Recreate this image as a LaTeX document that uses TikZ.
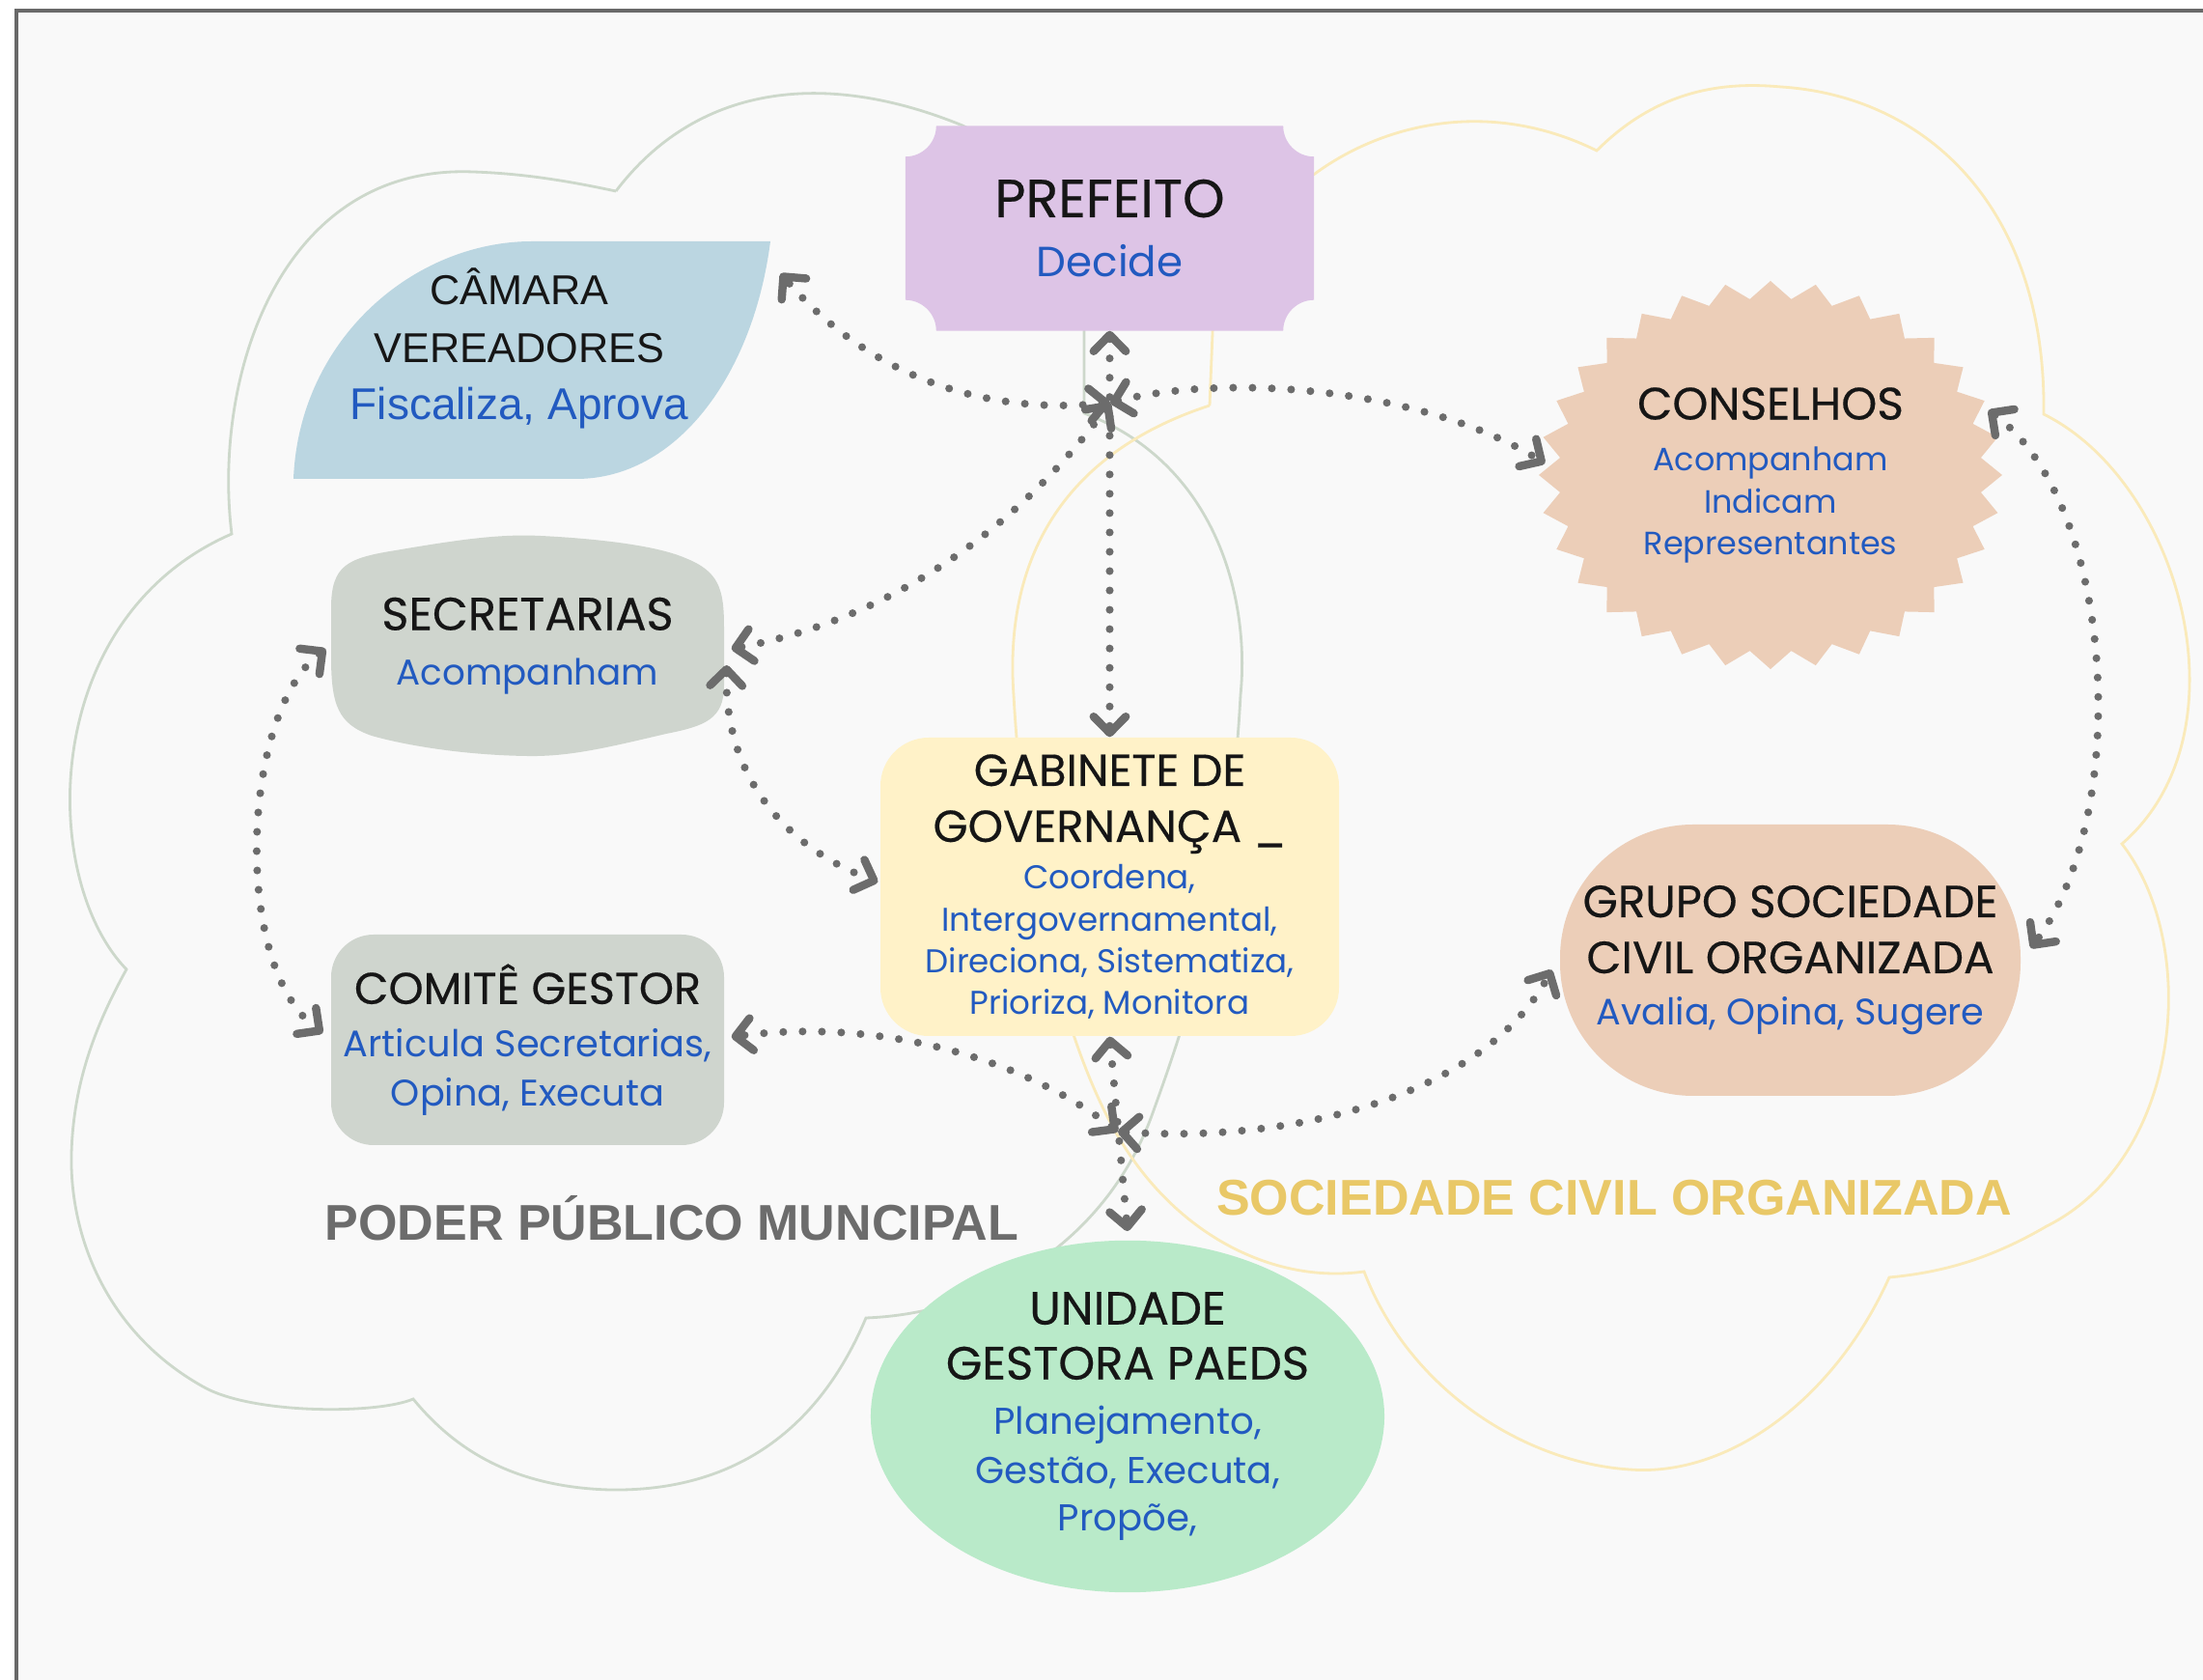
\documentclass[tikz,border=0pt]{standalone}
\usepackage{fontspec}
\setmainfont{Poppins}
\newfontfamily\ttlfont[FakeBold=0.4]{Poppins}
\newfontfamily\arialfont{Liberation Sans}
\usetikzlibrary{positioning, arrows.meta, shapes.geometric}

\definecolor{bggray}{RGB}{249,249,249}
\definecolor{framegray}{RGB}{105,105,105}
\definecolor{linkgray}{RGB}{108,108,108}
\definecolor{cloudgreen}{RGB}{205,216,203}
\definecolor{cloudyellow}{RGB}{250,234,186}
\definecolor{preffill}{RGB}{221,196,230}
\definecolor{camfill}{RGB}{187,214,225}
\definecolor{secfill}{RGB}{207,213,206}
\definecolor{gabfill}{RGB}{255,242,200}
\definecolor{consfill}{RGB}{236,206,184}
\definecolor{unifill}{RGB}{185,234,201}
\definecolor{actblue}{RGB}{34,90,192}
\definecolor{titleblack}{RGB}{22,22,22}
\definecolor{poderclr}{RGB}{108,108,108}
\definecolor{socclr}{RGB}{233,200,103}

\newcommand{\setfs}[2]{\fontsize{#1}{#2}\selectfont}
\newcommand{\acts}[2]{{\normalfont\fontsize{#1}{#1}\selectfont\color{actblue}#2}}

\pgfdeclarelayer{back}
\pgfdeclarelayer{mid}
\pgfsetlayers{back,mid,main}

\begin{document}
\begin{tikzpicture}[
    >={Straight Barb[length=4.8pt,width=9.5pt,line width=2.4pt,round]},
    on grid,
    link/.style={<->, draw=linkgray, line width=2.3pt, line cap=round,
        dash pattern=on 0pt off 5.7pt},
    cloudline/.style={line width=0.8pt},
    entity/.style={align=center, text=titleblack, inner sep=0pt},
    grouplabel/.style={font=\arialfont\bfseries\setfs{14.8}{16}}
]
\useasboundingbox (0,0) rectangle (22.82,17.40);

% nodes
\node[entity, fill=gabfill, rounded corners=5mm, minimum width=4.75cm,
      minimum height=3.09cm, font=\ttlfont\setfs{13.2}{16.5}] (gab) at (11.495,8.215)
      {GABINETE DE\\GOVERNANÇA \_\\[-2.8pt]\acts{9.7}{Coordena,}\\[-4pt]
       \acts{9.7}{Intergovernamental,}\\[-4pt]\acts{9.7}{Direciona, Sistematiza,}\\[-4.3pt]
       \acts{9.7}{Prioriza, Monitora}};
\node[entity, minimum width=4.22cm, minimum height=2.11cm,
      font=\ttlfont\setfs{15.8}{17.6}] (pref) [above=6.82cm of gab]
      {PREFEITO\\\acts{12.4}{Decide}};
\node[entity, ellipse, fill=unifill, minimum width=5.32cm, minimum height=3.50cm,
      font=\ttlfont\setfs{13.7}{16.2}] (uni) [below right=5.485cm and 0.185cm of gab]
      {UNIDADE\\GESTORA PAEDS\\\acts{11}{Planejamento,}\\[-1.7pt]
       \acts{11}{Gestão, Executa,}\\[-2.2pt]\acts{11}{Propõe,}};
\node[entity, minimum width=5.2cm, minimum height=2.22cm,
      font=\arialfont\setfs{12.3}{17}] (cam) at (5.38,13.79)
      {CÂMARA\\VEREADORES\\{\setfs{13.1}{13.1}\color{actblue}Fiscaliza, Aprova}};
\node[entity, minimum width=4.07cm, minimum height=2.26cm,
      font=\ttlfont\setfs{13.6}{16.2}] (sec) at (5.465,10.71)
      {SECRETARIAS\\\acts{10.6}{Acompanham}};
\node[entity, fill=secfill, rounded corners=4.4mm, minimum width=4.07cm,
      minimum height=2.18cm, font=\ttlfont\setfs{13.1}{15.6}] (com) [below=4.08cm of sec]
      {COMITÊ GESTOR\\\acts{10.9}{Articula Secretarias,}\\[-1.1pt]\acts{10.9}{Opina, Executa}};
\node[entity, minimum width=4.80cm, minimum height=4.02cm,
      font=\ttlfont\setfs{13.4}{12.5}] (cons) at (18.34,12.48)
      {CONSELHOS\\[2.5pt]\acts{9.5}{Acompanham}\\\acts{9.5}{Indicam}\\[-0.3pt]
       \acts{9.5}{Representantes}};
\node[entity, fill=consfill, rounded corners=13.8mm, minimum width=4.77cm,
      minimum height=2.81cm, font=\ttlfont\setfs{13.3}{16.5}] (grp)
      [below right=5.025cm and 0.205cm of cons]
      {GRUPO SOCIEDADE\\CIVIL ORGANIZADA\\[-1.2pt]\acts{10.85}{Avalia, Opina, Sugere}};
\node[grouplabel, text=poderclr] (poder) at (6.96,4.78) {PODER PÚBLICO MUNCIPAL};
\node[grouplabel, text=socclr] (soc) at (16.72,4.99) {SOCIEDADE CIVIL ORGANIZADA};

% background and clouds
\begin{pgfonlayer}{back}
\fill[white] (0,0) rectangle (22.82,17.40);
\fill[bggray] (0.17,0) rectangle (22.82,17.29);
\draw[framegray, line width=1.2pt] (0.17,0) -- (0.17,17.29) -- (22.82,17.29);
\draw[cloudgreen, cloudline] (6.38,15.42) .. controls (7.2,16.5) and (8.5,16.7) .. (9.97,16.10)
  .. controls (10.8,15.7) and (11.23,14.8) .. (11.23,14.0) -- (11.23,13.12)
  .. controls (12.6,12.6) and (12.95,11.2) .. (12.85,10.2)
  .. controls (12.75,8.3) and (12.35,7.0) .. (11.95,5.9)
  .. controls (11.5,4.6) and (10.3,3.8) .. (8.97,3.75)
  .. controls (8.4,2.4) and (7.4,1.95) .. (6.31,1.97)
  .. controls (5.3,2.0) and (4.7,2.4) .. (4.28,2.91)
  .. controls (3.9,2.75) and (2.6,2.75) .. (2.10,3.04)
  .. controls (1.1,3.6) and (0.72,4.6) .. (0.74,5.45)
  .. controls (0.76,6.2) and (1.0,6.8) .. (1.31,7.36)
  .. controls (0.4,8.3) and (0.4,11.0) .. (2.40,11.87)
  .. controls (2.2,13.5) and (2.9,15.7) .. (4.9,15.62)
  .. controls (5.5,15.6) and (6.0,15.5) .. (6.38,15.42);
\draw[cloudyellow, cloudline] (12.53,13.20) -- (12.57,14.2)
  .. controls (12.7,15.0) and (13.2,15.35) .. (13.62,15.60)
  .. controls (14.3,16.1) and (15.4,16.4) .. (16.54,15.84)
  .. controls (17.2,16.5) and (17.9,16.55) .. (18.45,16.5)
  .. controls (20.0,16.4) and (21.2,15.2) .. (21.17,13.11)
  .. controls (22.6,12.4) and (23.3,9.8) .. (21.98,8.66)
  .. controls (22.8,7.6) and (22.6,5.4) .. (21.2,4.7)
  .. controls (20.6,4.35) and (20.1,4.22) .. (19.57,4.17)
  .. controls (19.0,2.9) and (17.9,2.1) .. (16.88,2.18)
  .. controls (15.8,2.25) and (14.6,3.0) .. (14.13,4.23)
  .. controls (13.2,4.1) and (12.2,4.6) .. (11.6,5.6)
  .. controls (11.0,6.6) and (10.6,8.4) .. (10.5,10.2)
  .. controls (10.4,11.6) and (11.0,12.7) .. (12.53,13.20);
\end{pgfonlayer}

% node shapes
\begin{pgfonlayer}{mid}
\fill[preffill] ([xshift=3.2mm]pref.north west) -- ([xshift=-3.2mm]pref.north east)
  arc[start angle=180, end angle=270, radius=3.2mm] -- ([yshift=3.2mm]pref.south east)
  arc[start angle=90, end angle=180, radius=3.2mm] -- ([xshift=3.2mm]pref.south west)
  arc[start angle=0, end angle=90, radius=3.2mm] -- ([yshift=-3.2mm]pref.north west)
  arc[start angle=270, end angle=360, radius=3.2mm] -- cycle;
\fill[camfill] (3.04,12.44) -- (5.97,12.44) .. controls (7.0,12.44) and (7.8,13.5) .. (7.98,14.90)
  -- (5.51,14.90) .. controls (4.3,14.90) and (3.1,13.9) .. (3.04,12.44) -- cycle;
\fill[secfill] (3.43,10.6) -- (3.43,11.1) .. controls (3.43,11.55) and (3.6,11.62) .. (4.1,11.70)
  .. controls (4.8,11.82) and (5.2,11.87) .. (5.6,11.85)
  .. controls (6.2,11.82) and (6.8,11.75) .. (7.1,11.62)
  .. controls (7.45,11.48) and (7.50,11.3) .. (7.50,10.9) -- (7.50,10.3)
  .. controls (7.50,9.95) and (7.3,9.88) .. (6.9,9.8)
  .. controls (6.3,9.66) and (5.9,9.56) .. (5.45,9.57)
  .. controls (4.8,9.58) and (4.2,9.68) .. (3.85,9.78)
  .. controls (3.5,9.9) and (3.43,10.1) .. (3.43,10.6) -- cycle;
\fill[consfill] ([shift={(90:2.40 and 2.01)}]cons.center)
  \foreach \k in {0,...,31} {
    -- ([shift={({90+11.25*\k}:2.40 and 2.01)}]cons.center)
    -- ([shift={({95.625+11.25*\k}:2.19 and 1.83)}]cons.center)
  } -- cycle;
\end{pgfonlayer}

% links
\coordinate (hubtop) at (11.50,13.23);
\coordinate (hubbot) at (11.58,5.68);
\draw[link] (pref.south) -- (gab.north);
\draw[link] (hubtop) .. controls (10.2,13.1) and (9.0,13.5) .. ([shift={(0.10,-0.34)}]cam.north east);
\draw[link] (hubtop) .. controls (12.8,13.55) and (14.8,13.35) .. ([shift={(0.07,0.12)}]cons.west);
\draw[link] (hubtop) .. controls (10.6,12.0) and (9.3,11.0) .. ([shift={(0.07,-0.03)}]sec.east);
\draw[link] (gab.south) -- ([yshift=0.09cm]uni.north);
\draw[link] (hubbot) .. controls (10.5,6.5) and (9.0,6.85) .. ([shift={(0.07,0.03)}]com.east);
\draw[link] (hubbot) .. controls (13.5,5.55) and (15.4,6.1) .. ([shift={(-0.08,-0.1)}]grp.west);
\draw[link] ([shift={(0.02,-0.2)}]sec.east) .. controls (7.5,9.3) and (8.2,8.6) .. ([shift={(-0.02,0.05)}]gab.west);
\draw[link] ([shift={(-0.05,-0.03)}]sec.west) .. controls (2.5,10.0) and (2.4,7.4) .. ([shift={(-0.08,0.07)}]com.west);
\draw[link] ([shift={(-0.15,0.67)}]cons.east) .. controls (21.9,12.2) and (22.1,9.0) .. ([shift={(0.1,0.125)}]grp.east);
\end{tikzpicture}
\end{document}
